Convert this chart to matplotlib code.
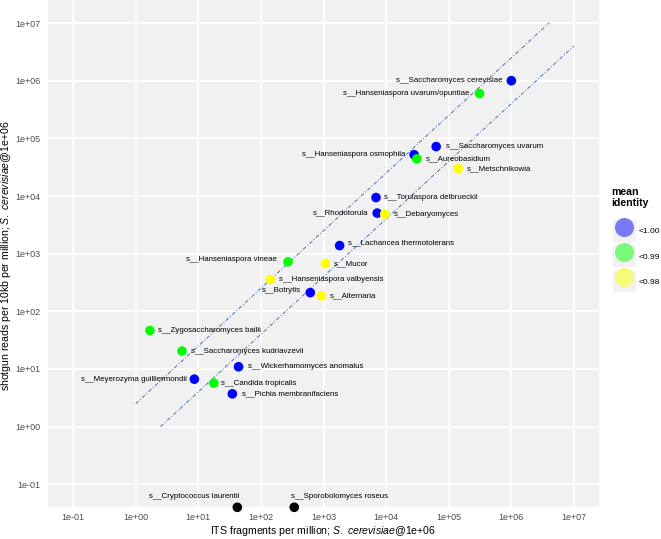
import matplotlib
matplotlib.use("Agg")
import matplotlib.pyplot as plt
import numpy as np
from matplotlib.lines import Line2D
from matplotlib.patches import Rectangle
from matplotlib.ticker import FixedLocator, FuncFormatter, NullLocator

plt.rcParams["font.family"] = "Liberation Sans"
plt.rcParams["mathtext.fontset"] = "custom"
plt.rcParams["mathtext.rm"] = "Liberation Sans"
plt.rcParams["mathtext.it"] = "Liberation Sans:italic"

# ITS fragments per million vs shotgun reads per 10kb per million
SPECIES = [
    "s__Saccharomyces cerevisiae",
    "s__Hanseniaspora uvarum/opuntiae",
    "s__Saccharomyces uvarum",
    "s__Hanseniaspora osmophila",
    "s__Aureobasidium",
    "s__Metschnikowia",
    "s__Torulaspora delbrueckii",
    "s__Rhodotorula",
    "s__Debaryomyces",
    "s__Lachancea thermotolerans",
    "s__Hanseniaspora vineae",
    "s__Mucor",
    "s__Hanseniaspora valbyensis",
    "s__Botrytis",
    "s__Alternaria",
    "s__Zygosaccharomyces bailii",
    "s__Saccharomyces kudriavzevii",
    "s__Wickerhamomyces anomalus",
    "s__Meyerozyma guilliermondii",
    "s__Candida tropicalis",
    "s__Pichia membranifaciens",
    "s__Cryptococcus laurentii",
    "s__Sporobolomyces roseus",
]
ITS_FPM = [1.0e6, 3.1e5, 6.3e4, 2.8e4, 3.1e4, 1.42e5, 6.9e3, 7.2e3, 9.5e3, 1.81e3,
           271, 1.07e3, 141, 615, 922, 1.69, 5.5, 44, 8.65, 17.7, 35, 42, 341]
SHOTGUN_RPM = [1.0e6, 6.0e5, 7.2e4, 5.2e4, 4.4e4, 3.0e4, 9.4e3, 5.05e3, 4.85e3, 1.38e3,
               721, 675, 356, 211, 185, 46.4, 20.4, 10.9, 6.65, 5.66, 3.7, 0, 0]
IDENTITY = ["<1.00", "<0.99", "<1.00", "<1.00", "<0.99", "<0.98", "<1.00", "<1.00",
            "<0.98", "<1.00", "<0.99", "<0.98", "<0.98", "<1.00", "<0.98", "<0.99",
            "<0.99", "<1.00", "<1.00", "<0.99", "<1.00", None, None]

IDENTITY_LEVELS = ["<1.00", "<0.99", "<0.98"]
POINT_COLORS = {"<1.00": "#0000ff", "<0.99": "#00ff00", "<0.98": "#ffff00", None: "#000000"}
KEY_COLORS = {"<1.00": "#7979f8", "<0.99": "#79f879", "<0.98": "#f8f879"}

# reference lines y = 2.5 x and y = x / 2.5, kept inside [1, 1e7]
RATIO = 2.5
LINE_RANGE = (1.0, 1.0e7)

# label placement in pixels: (dx, dy, horizontal alignment)
LABEL_OFFSETS = {
    "s__Saccharomyces cerevisiae": (-9, 0, "right"),
    "s__Hanseniaspora uvarum/opuntiae": (-10, 0, "right"),
    "s__Saccharomyces uvarum": (10, 0, "left"),
    "s__Hanseniaspora osmophila": (-9, 0, "right"),
    "s__Aureobasidium": (9, 0, "left"),
    "s__Metschnikowia": (9, 0, "left"),
    "s__Torulaspora delbrueckii": (8, 0, "left"),
    "s__Rhodotorula": (-9, 0, "right"),
    "s__Debaryomyces": (9, 0, "left"),
    "s__Lachancea thermotolerans": (8.5, 2.5, "left"),
    "s__Hanseniaspora vineae": (-11.5, 2, "right"),
    "s__Mucor": (8, 0, "left"),
    "s__Hanseniaspora valbyensis": (8.5, 0.5, "left"),
    "s__Botrytis": (-9, 2.5, "right"),
    "s__Alternaria": (8.5, 0, "left"),
    "s__Zygosaccharomyces bailii": (8.5, 0, "left"),
    "s__Saccharomyces kudriavzevii": (8.5, 0, "left"),
    "s__Wickerhamomyces anomalus": (9, 0, "left"),
    "s__Meyerozyma guilliermondii": (-7, 0, "right"),
    "s__Candida tropicalis": (7, 0, "left"),
    "s__Pichia membranifaciens": (10, 0, "left"),
    "s__Cryptococcus laurentii": (2.5, 11, "right"),
    "s__Sporobolomyces roseus": (-3, 11, "left"),
}

W, H = 661, 539
fig = plt.figure(figsize=(W / 100, H / 100), dpi=100)
ax = fig.add_axes([48 / W, 1 - 507.3 / H, (599 - 48) / W, 507.3 / H])
ax.set_facecolor("#f1f1f1")
for s in ax.spines.values():
    s.set_visible(False)

lo, hi = 10 ** -1.4, 10 ** 7.4
ax.set_xscale("log")
ax.set_yscale("log")
ax.set_xlim(lo, hi)
ax.set_ylim(lo, hi)

decades = [10.0 ** k for k in range(-1, 8)]
for axis in (ax.xaxis, ax.yaxis):
    axis.set_major_locator(FixedLocator(decades))
    axis.set_minor_locator(NullLocator())
    axis.set_major_formatter(FuncFormatter(lambda v, _: format(v, ".0e")))
ax.grid(True, color="white", linewidth=1.2)
ax.set_axisbelow(True)
ax.tick_params(axis="x", length=0, pad=4, labelsize=6.5, labelcolor="#4d4d4d")
ax.tick_params(axis="y", length=0, pad=5.6, labelsize=6.5, labelcolor="#4d4d4d")

# reference lines
x_up = np.array([LINE_RANGE[0], LINE_RANGE[1] / RATIO])
x_dn = np.array([LINE_RANGE[0] * RATIO, LINE_RANGE[1]])
for xs, ys in ((x_up, x_up * RATIO), (x_dn, x_dn / RATIO)):
    ax.plot(xs, ys, color="#4d72b0", linewidth=0.7,
            linestyle=(0, (4, 2, 1, 2)), zorder=2)

# points; zero counts drop to the bottom of the panel (like -Inf)
xs = np.array(ITS_FPM, dtype=float)
ys = np.array(SHOTGUN_RPM, dtype=float)
ys_plot = np.where(ys > 0, ys, lo)
colors = [POINT_COLORS[c] for c in IDENTITY]
ax.scatter(xs, ys_plot, s=48, c=colors, edgecolors="none", zorder=3, clip_on=False)

for name, x, y in zip(SPECIES, xs, ys_plot):
    dx, dy, ha = LABEL_OFFSETS[name]
    ax.annotate(name, (x, y), xytext=(dx, dy), textcoords="offset pixels",
                ha=ha, va="center", fontsize=5.7, color="black", zorder=4,
                annotation_clip=False)

fig.text(323.5 / W, 1 - 531 / H,
         r"ITS fragments per million; $\it{S.\ cerevisiae}$@1e+06",
         ha="center", va="center", fontsize=7.6)
fig.text(6 / W, 1 - 256 / H,
         r"shotgun reads per 10kb per million; $\it{S.\ cerevisiae}$@1e+06",
         ha="center", va="center", rotation=90, fontsize=7.6)

# legend: title as its own text, keys with grey background boxes
fig.text(611 / W, 1 - 187 / H, "mean\nidentity", ha="left", va="top",
         fontsize=7.6, fontweight="bold", linespacing=1.1)
handles = [
    (Rectangle((0, 0), 1, 1, facecolor="#f1f1f1", edgecolor="none"),
     Line2D([], [], marker="o", linestyle="", markersize=13.7,
            markerfacecolor=KEY_COLORS[lvl], markeredgecolor="none"))
    for lvl in IDENTITY_LEVELS
]
fig.legend(handles, IDENTITY_LEVELS,
           loc="upper left", bbox_to_anchor=(613 / W, 1 - 220 / H),
           frameon=False, fontsize=6.1,
           handlelength=2.7, handleheight=3.6,
           labelspacing=0.4, handletextpad=0.3, borderpad=0,
           borderaxespad=0)

fig.savefig("out.png", dpi=100)
